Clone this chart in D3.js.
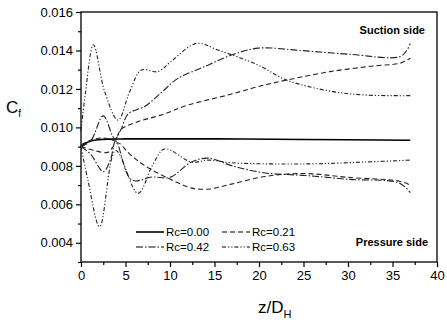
<!DOCTYPE html>
<html>
<head>
<meta charset="utf-8">
<script src="https://cdn.jsdelivr.net/npm/d3@7"></script>
<style>
  body { margin: 0; background: #fff; }
  svg { display: block; font-family: Arial, "Liberation Sans", sans-serif; }
</style>
</head>
<body>
<div id="chart"></div>
<script>
// data: [z/DH, Cf]
const rc000 = [[0,0.0090],[0.5,0.00918],[1.2,0.00930],[2,0.00936],[3,0.00939],[5,0.00940],[15,0.00940],[25,0.00937],[37,0.00933]];

const rc021Suction = [[0,0.0091],[1.2,0.00935],[2.5,0.00945],[3.8,0.00935],[4.5,0.0099],[6.4,0.0103],[9,0.01064],[12,0.01116],[16.5,0.01168],[19.9,0.01212],[23.1,0.01246],[28,0.0129],[33,0.0132],[35.8,0.01333],[36.6,0.0135],[37,0.0136]];
const rc021Pressure = [[0,0.0090],[1.5,0.0088],[3,0.0087],[4.1,0.0092],[5.5,0.0086],[7.2,0.0080],[10.5,0.0072],[12.6,0.00683],[14.5,0.0068],[16.9,0.00705],[20.7,0.00745],[25.2,0.0076],[30,0.0074],[35.8,0.0072],[37,0.00700]];

const rc042Suction = [[0,0.0090],[1.1,0.0093],[2.5,0.0106],[3.8,0.0094],[4.5,0.0099],[5.3,0.0107],[7.2,0.0111],[9,0.0118],[10.9,0.01255],[13.9,0.01316],[16.9,0.01376],[19.9,0.01412],[24.6,0.0140],[30.2,0.0138],[35.8,0.01367],[36.6,0.0140],[37,0.01437]];
const rc042Pressure = [[0,0.0090],[1.1,0.0086],[2.5,0.0077],[3.3,0.0083],[3.9,0.0093],[5.7,0.00726],[8,0.00742],[10,0.0074],[12.4,0.0082],[14.3,0.0084],[17,0.0080],[20.7,0.00763],[25.2,0.00750],[30,0.0073],[35.8,0.0071],[37,0.0066]];

const rc063Suction = [[0,0.0098],[0.5,0.0118],[1.4,0.0143],[2.66,0.01186],[4.16,0.01038],[5.47,0.01186],[6.78,0.01298],[8.65,0.0129],[10.1,0.01342],[13,0.01437],[15.4,0.01402],[19.9,0.01324],[23.1,0.01246],[28.3,0.01186],[32.1,0.01168],[37,0.01165]];
const rc063Pressure = [[0,0.0090],[0.8,0.0072],[2.1,0.00484],[3.9,0.0088],[6.4,0.00657],[8,0.0080],[9.4,0.00888],[12.4,0.0082],[14.3,0.0083],[16.9,0.00816],[25.2,0.0081],[32,0.0082],[37,0.0083]];

const legendLabels = ["Rc=0.00", "Rc=0.21", "Rc=0.42", "Rc=0.63"];
const dashes = [null, "5,3", "7,2,1.5,2", "4,2,1.2,2,1.2,2"];

const series = [
  { data: rc000, style: 0 },
  { data: rc021Suction, style: 1 },
  { data: rc021Pressure, style: 1 },
  { data: rc042Suction, style: 2 },
  { data: rc042Pressure, style: 2 },
  { data: rc063Suction, style: 3 },
  { data: rc063Pressure, style: 3 }
];

const width = 447, height = 322;
const margin = { top: 12, right: 10, bottom: 60, left: 81 };

const svg = d3.select("#chart").append("svg")
  .attr("width", width)
  .attr("height", height);

const x = d3.scaleLinear().domain([0, 40]).range([margin.left, width - margin.right]);
const y = d3.scaleLinear().domain([0.003, 0.016]).range([height - margin.bottom, margin.top]);

// frame
svg.append("rect")
  .attr("x", x(0)).attr("y", y(0.016))
  .attr("width", x(40) - x(0)).attr("height", y(0.003) - y(0.016))
  .attr("fill", "none").attr("stroke", "#000").attr("stroke-width", 1.3);

// axes
const xAxis = d3.axisBottom(x).tickValues(d3.range(0, 41, 5)).tickSize(5).tickPadding(4).tickFormat(d3.format("d"));
const xMinor = d3.axisBottom(x).tickValues(d3.range(2.5, 40, 5)).tickSize(3).tickFormat("");
const yAxis = d3.axisLeft(y).tickValues(d3.range(0.004, 0.0161, 0.002)).tickSize(5).tickPadding(3).tickFormat(d3.format(".3f"));
const yMinor = d3.axisLeft(y).tickValues(d3.range(0.003, 0.016, 0.002)).tickSize(3).tickFormat("");

function styleAxis(g) {
  g.select(".domain").remove();
  g.selectAll("line").attr("stroke", "#000").attr("stroke-width", 1.2);
  g.selectAll("text").attr("fill", "#000").style("font-size", "13px");
}

svg.append("g").attr("transform", `translate(0,${y(0.003)})`).call(xAxis).call(styleAxis);
svg.append("g").attr("transform", `translate(0,${y(0.003)})`).call(xMinor).call(styleAxis);
svg.append("g").attr("transform", `translate(${x(0)},0)`).call(yAxis).call(styleAxis);
svg.append("g").attr("transform", `translate(${x(0)},0)`).call(yMinor).call(styleAxis);

// curves
const line = d3.line()
  .x(d => x(d[0]))
  .y(d => y(d[1]))
  .curve(d3.curveCatmullRom.alpha(0.5));

svg.append("g").selectAll("path")
  .data(series)
  .join("path")
  .attr("d", d => line(d.data))
  .attr("fill", "none")
  .attr("stroke", d => d.style === 0 ? "#000" : "#222")
  .attr("stroke-width", d => d.style === 0 ? 1.6 : 1.1)
  .attr("stroke-dasharray", d => dashes[d.style]);

// legend
const legend = svg.append("g").style("font-size", "11.5px");
legendLabels.forEach((lab, i) => {
  const col = i % 2, row = Math.floor(i / 2);
  const lx = 136 + col * 86, ly = 232 + row * 15;
  legend.append("line")
    .attr("x1", lx).attr("x2", lx + 28).attr("y1", ly).attr("y2", ly)
    .attr("stroke", "#000").attr("stroke-width", i === 0 ? 1.6 : 1.1)
    .attr("stroke-dasharray", dashes[i]);
  legend.append("text")
    .attr("x", lx + 30).attr("y", ly + 4)
    .text(lab);
});

// annotations
svg.append("text").attr("x", 425).attr("y", 34).attr("text-anchor", "end")
  .style("font-size", "11px").style("font-weight", "bold").text("Suction side");
svg.append("text").attr("x", 428).attr("y", 246).attr("text-anchor", "end")
  .style("font-size", "11px").style("font-weight", "bold").text("Pressure side");

// axis titles
const xt = svg.append("text").attr("x", 258).attr("y", 313).style("font-size", "17px");
xt.append("tspan").text("z/D");
xt.append("tspan").attr("dy", 5).style("font-size", "11px").text("H");

const yt = svg.append("text").attr("x", 6).attr("y", 113).style("font-size", "17px");
yt.append("tspan").text("C");
yt.append("tspan").attr("dy", 4).style("font-size", "10px").text("f");
</script>
</body>
</html>
